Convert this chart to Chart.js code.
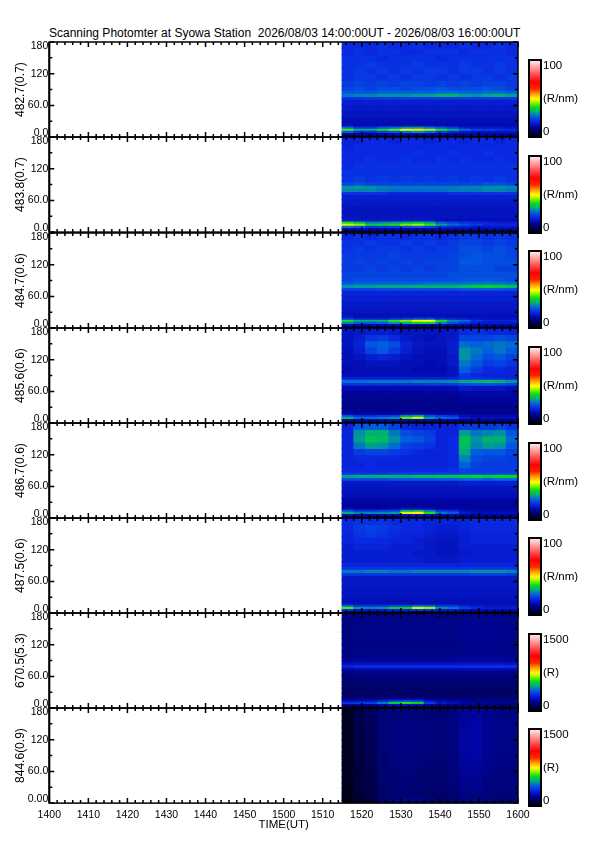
<!DOCTYPE html>
<html><head><meta charset="utf-8">
<script src="https://cdn.jsdelivr.net/npm/chart.js@4.4.1/dist/chart.umd.min.js"></script>
<style>
html,body{margin:0;padding:0;background:#fff;overflow:hidden;width:595px;height:842px;}
#wrap{position:relative;width:595px;height:842px;}
#title{position:absolute;left:49px;top:26px;font:12px "Liberation Sans",Arial,sans-serif;line-height:14px;white-space:pre;color:#000;}
</style></head>
<body><div id="wrap"><div id="title">Scanning Photomter at Syowa Station  2026/08/03 14:00:00UT - 2026/08/03 16:00:00UT</div></div>
<script>
// ---------------- data ----------------
const channelLabels = ['482.7(0.7)','483.8(0.7)','484.7(0.6)','485.6(0.6)','486.7(0.6)','487.5(0.6)','670.5(5.3)','844.6(0.9)'];
const colorbarMax = [100,100,100,100,100,100,1500,1500];
const colorbarUnits = ['(R/nm)','(R/nm)','(R/nm)','(R/nm)','(R/nm)','(R/nm)','(R)','(R)'];
const timeTickLabels = ['1400','1410','1420','1430','1440','1450','1500','1510','1520','1530','1540','1550','1600'];
const yTickValues = [0,60,120,180];
const yTickLabels = ['0.0','60.0','120','180'];
const yTickLabelsLast = ['0.00','60.0','120','180'];
const yMinorTicks = [30,90,150];
// elevation row boundaries (deg)
const elevEdges = [0,5,9,13,17,21,28,38,50,62,72,77,83,89,96,108,120,132,144,156,168,180];
// column centres, minutes after 14:00 UT (3-min bins, 15:15-16:00)
const colTimes = [76.5,79.5,82.5,85.5,88.5,91.5,94.5,97.5,100.5,103.5,106.5,109.5,112.5,115.5,118.5];

// intensity grids: rows from top (168-180 deg) to bottom (0-5 deg), one value per time column
const ch482_7 = [
[21,21,21,22,21,21,22,21,21,21,22,21,21,22,21],
[21,22,21,22,22,21,21,22,22,22,21,22,22,22,21],
[22,22,22,21,22,22,22,22,21,22,22,22,22,22,22],
[22,22,23,22,22,22,23,22,22,22,23,22,22,23,22],
[22,23,22,23,22,23,22,23,23,22,23,23,22,23,22],
[22,23,23,22,23,22,23,23,22,23,22,23,23,22,23],
[23,24,23,24,23,24,24,23,24,23,24,23,24,24,23],
[24,25,24,25,25,24,25,25,26,25,25,25,26,25,24],
[26,26,26,27,27,27,27,27,28,28,27,27,28,28,27],
[29,30,30,31,31,31,32,32,34,34,32,31,33,34,32],
[22,22,23,23,23,23,23,23,23,23,23,23,23,23,23],
[19,19,19,19,19,19,19,19,19,19,19,19,19,19,19],
[18,18,18,18,18,18,18,18,18,18,18,18,18,18,18],
[17,17,17,17,17,17,17,17,17,17,17,17,17,17,17],
[16,16,16,16,16,16,16,16,16,16,16,16,16,16,16],
[16,15,15,15,15,15,15,15,15,15,15,15,15,15,15],
[28,22,22,26,28,31,32,29,26,23,19,18,18,18,17],
[42,34,34,40,43,49,52,46,40,34,28,24,23,22,21],
[26,21,21,24,26,29,31,28,24,21,18,17,17,17,17],
[14,14,14,14,15,15,15,15,14,14,14,14,14,14,14],
[10,11,11,11,11,11,11,11,11,11,11,11,11,11,11]];
const ch483_8 = [
[20,20,21,21,20,21,21,20,21,21,20,21,21,20,21],
[20,21,21,21,21,21,21,21,21,21,21,21,21,21,21],
[21,21,21,21,21,21,22,21,21,22,21,21,22,21,21],
[21,21,22,21,21,22,21,21,22,21,22,21,21,22,21],
[21,22,22,22,22,22,22,22,22,22,22,22,22,22,22],
[22,22,22,22,22,22,22,22,22,22,22,22,22,22,22],
[22,23,22,23,22,23,22,23,22,23,22,23,22,23,22],
[24,25,24,24,24,24,24,24,24,24,24,24,25,25,24],
[31,32,31,30,29,29,29,29,29,29,30,30,31,31,30],
[30,30,30,29,28,28,28,28,28,29,29,29,30,30,29],
[22,22,22,22,21,21,21,21,21,22,22,22,22,22,22],
[19,19,19,19,19,19,19,19,19,19,19,19,19,19,19],
[18,18,18,18,18,18,18,18,18,18,18,18,18,18,18],
[17,17,17,17,17,17,17,17,17,17,17,17,17,17,17],
[17,17,17,17,17,17,17,17,17,17,17,17,17,17,17],
[18,17,17,17,17,17,17,17,16,16,16,16,16,16,16],
[40,36,30,31,32,35,37,33,26,24,22,21,20,19,19],
[48,45,38,39,40,44,46,41,32,28,25,23,21,20,20],
[28,26,22,22,23,25,26,24,21,20,19,18,18,18,18],
[15,15,15,15,15,15,15,15,15,15,15,15,15,15,15],
[11,11,11,11,11,11,11,11,11,11,11,11,11,11,11]];
const ch484_7 = [
[21,22,21,22,22,21,22,22,21,22,23,23,22,23,22],
[22,22,23,22,22,23,22,23,22,23,24,24,23,24,23],
[22,23,22,23,23,22,23,22,23,23,25,25,24,25,24],
[23,23,23,23,24,23,23,23,23,24,25,26,25,25,24],
[23,24,23,24,23,24,23,24,24,24,26,26,25,25,25],
[23,23,24,23,24,23,24,23,24,24,25,25,25,24,24],
[24,24,24,24,24,24,24,24,24,25,25,25,25,25,25],
[24,25,25,25,25,25,25,25,25,25,26,26,26,26,25],
[26,27,27,27,27,27,27,28,28,28,28,29,29,29,28],
[31,32,32,33,33,33,34,34,34,34,35,37,38,37,35],
[24,24,24,25,25,25,25,25,25,25,26,26,27,26,25],
[20,20,20,20,20,20,20,20,20,20,20,20,20,20,20],
[19,19,19,19,19,19,19,19,19,19,19,19,19,19,19],
[18,18,18,18,18,18,18,18,18,18,18,18,18,18,18],
[17,17,17,17,17,17,17,17,17,17,17,17,17,17,17],
[17,16,16,16,16,16,16,16,16,16,16,16,16,16,16],
[22,19,19,19,21,22,24,24,20,19,18,17,17,17,17],
[40,34,34,35,41,44,51,50,40,31,28,22,20,20,20],
[30,26,26,27,31,34,39,38,30,25,22,19,18,18,18],
[15,15,15,15,15,15,15,15,15,15,15,15,15,15,15],
[11,11,11,11,11,11,11,11,11,11,11,11,11,11,11]];
const ch485_6 = [
[17,18,19,19,18,17,17,17,17,18,21,22,21,21,20],
[17,19,22,23,21,18,17,16,17,18,24,24,24,25,24],
[17,20,26,27,25,20,18,17,17,19,28,27,28,29,28],
[16,19,24,26,23,19,17,16,16,19,31,29,27,29,26],
[16,17,19,20,19,17,16,16,16,18,31,28,25,26,24],
[16,16,17,17,17,16,16,15,16,18,29,26,23,24,22],
[15,16,16,16,16,16,15,15,15,17,27,23,21,21,20],
[16,16,16,16,16,16,16,16,16,17,23,21,20,20,20],
[19,19,19,19,19,19,19,19,19,20,22,22,21,21,20],
[28,28,29,29,29,29,30,30,30,31,33,34,35,34,31],
[22,22,22,22,22,22,22,23,23,23,25,26,26,25,24],
[15,15,15,15,15,15,15,15,15,15,18,17,17,17,16],
[13,13,13,13,13,13,13,13,13,13,14,14,14,14,14],
[12,12,12,12,12,12,12,12,12,12,13,13,13,13,13],
[12,12,12,12,12,12,12,12,12,12,12,12,12,12,12],
[12,12,12,12,12,12,12,12,12,12,12,12,12,12,12],
[14,13,13,13,13,14,14,13,13,13,12,12,12,12,12],
[25,21,21,22,23,30,32,25,22,21,16,15,15,15,15],
[34,28,28,29,31,43,47,32,28,26,18,16,16,16,16],
[15,14,14,14,14,16,16,14,14,14,13,13,13,13,13],
[10,10,10,10,10,10,10,10,10,10,10,10,10,10,10]];
const ch486_7 = [
[20,26,27,27,24,21,20,20,20,20,23,23,23,24,22],
[20,31,34,34,29,25,24,23,20,20,32,29,30,31,26],
[20,32,36,35,31,27,26,24,20,21,36,31,34,34,28],
[20,29,32,31,28,24,23,22,20,21,35,30,32,31,26],
[20,23,24,24,23,22,21,20,20,21,33,27,26,26,24],
[20,21,21,21,21,20,20,20,20,21,30,25,24,24,23],
[20,20,21,20,20,20,20,20,20,21,27,24,23,23,23],
[21,21,21,21,21,21,21,21,21,22,24,23,23,23,23],
[22,22,22,22,23,23,23,23,23,23,24,24,24,24,24],
[32,33,33,34,34,34,35,35,36,36,37,38,37,38,38],
[25,25,25,25,26,26,26,26,27,27,28,28,27,28,28],
[18,18,18,18,18,18,18,18,18,18,19,19,19,19,19],
[17,17,17,17,17,17,17,17,17,17,17,17,17,17,17],
[16,16,16,16,16,16,16,16,16,16,16,16,16,16,16],
[14,14,14,14,14,14,14,14,14,14,14,14,14,14,14],
[13,13,13,13,13,13,13,13,13,13,13,13,13,13,13],
[15,14,14,14,15,16,16,15,14,14,13,13,13,13,13],
[25,22,22,23,24,33,35,29,22,21,16,15,15,15,15],
[34,30,30,31,32,48,51,40,29,26,18,16,16,16,16],
[16,15,15,15,15,17,18,16,15,15,14,14,14,14,14],
[10,10,10,10,10,10,10,10,10,10,10,10,10,10,10]];
const ch487_5 = [
[21,22,22,22,21,21,21,20,20,20,20,21,21,21,21],
[21,23,24,23,22,21,21,20,19,19,20,21,21,21,21],
[20,22,23,22,21,20,20,19,18,18,19,20,20,20,20],
[20,21,21,21,20,20,19,18,17,17,19,20,20,20,20],
[19,20,20,20,19,19,19,18,17,17,19,19,19,19,19],
[19,19,19,19,19,19,18,18,17,17,18,19,19,19,19],
[19,19,19,19,19,19,19,18,18,18,19,19,19,19,19],
[20,20,20,20,20,20,20,20,20,20,20,20,20,20,20],
[22,22,22,22,22,22,22,22,22,22,22,22,22,22,22],
[29,29,30,30,29,29,30,30,30,30,30,31,31,31,30],
[23,23,23,23,23,23,23,23,23,23,23,24,24,24,23],
[18,18,18,18,18,18,18,18,18,18,18,18,18,18,18],
[18,18,18,18,18,18,18,18,18,18,18,18,18,18,18],
[17,17,17,17,17,17,17,17,17,17,17,17,17,17,17],
[17,17,17,17,17,17,17,17,17,17,17,17,17,17,17],
[16,16,16,16,16,16,16,16,16,16,16,16,16,16,16],
[17,16,16,16,16,16,16,16,16,16,16,16,16,16,16],
[27,22,22,22,24,24,27,26,22,22,19,18,17,17,17],
[42,31,30,31,37,39,47,45,31,29,24,21,19,19,19],
[22,18,18,18,20,20,23,22,18,18,16,15,15,15,15],
[11,11,11,11,11,11,11,11,11,11,11,11,11,11,11]];
const ch670_5 = [
[160,170,170,170,170,170,170,170,170,170,175,180,180,175,170],
[160,170,175,175,175,175,175,175,175,175,180,185,185,180,175],
[165,175,175,175,175,175,175,175,175,175,185,190,190,185,180],
[165,175,175,175,175,175,175,175,175,175,185,190,190,185,180],
[165,170,170,170,170,170,170,170,170,170,180,185,185,180,175],
[165,170,170,170,170,170,170,170,170,170,175,180,180,175,170],
[170,175,175,175,175,175,175,175,175,175,180,180,180,180,175],
[190,195,195,195,195,195,195,195,195,195,200,200,200,200,195],
[230,240,240,240,240,240,245,245,245,245,250,250,250,250,245],
[290,310,310,310,310,310,315,315,315,315,320,320,320,325,320],
[220,230,230,230,230,230,230,230,230,230,235,235,235,235,230],
[165,170,170,170,170,170,170,170,170,170,170,170,170,170,170],
[145,150,150,150,150,150,150,150,150,150,150,150,150,150,150],
[135,140,140,140,140,140,140,140,140,140,140,140,140,140,140],
[125,130,130,130,130,130,130,130,130,130,130,130,130,130,130],
[135,135,135,135,135,135,135,135,135,135,135,135,135,135,135],
[165,165,170,175,185,185,185,165,155,150,145,145,145,145,145],
[220,230,240,280,330,350,330,250,210,195,185,175,170,170,170],
[320,340,350,430,560,600,580,340,270,240,210,195,185,185,180],
[195,205,205,225,250,260,250,205,185,175,165,160,155,155,155],
[115,125,125,125,125,125,125,125,125,125,125,125,125,125,125]];
const ch844_6 = [
[40,100,120,150,155,160,155,150,150,160,190,200,175,170,170],
[40,100,120,150,155,160,155,150,150,160,195,205,180,170,170],
[40,95,115,150,160,165,160,155,155,165,200,210,180,175,175],
[40,95,115,150,160,165,160,155,155,165,205,210,185,175,175],
[40,90,110,150,160,165,160,155,155,165,205,215,185,175,175],
[40,90,110,150,160,165,160,155,155,165,205,215,185,175,170],
[40,90,110,150,160,160,160,155,155,165,205,210,185,175,170],
[40,85,105,145,155,160,155,150,150,160,200,210,180,170,170],
[40,85,105,145,155,160,155,150,150,160,200,205,180,170,165],
[40,85,105,145,155,160,155,150,150,160,200,205,180,170,165],
[40,85,105,145,155,160,155,150,150,160,195,200,180,170,165],
[40,80,100,145,150,155,150,145,145,155,190,195,175,165,160],
[40,80,100,140,150,155,150,145,145,155,185,190,170,165,160],
[40,75,95,140,145,150,145,140,140,150,180,185,165,160,155],
[35,75,95,135,145,150,145,140,140,150,175,180,165,160,155],
[35,70,90,130,140,145,140,135,135,145,170,175,160,155,150],
[35,70,90,130,140,145,140,135,135,140,165,170,155,150,150],
[35,70,90,130,140,145,140,135,135,140,160,165,155,150,145],
[35,70,90,135,150,160,160,140,135,140,160,160,150,145,145],
[30,65,85,140,160,175,175,145,135,140,155,155,150,145,140],
[30,60,80,120,130,135,135,125,120,125,140,140,135,130,130]];
const channelGrids = [ch482_7, ch483_8, ch484_7, ch485_6, ch486_7, ch487_5, ch670_5, ch844_6];

// ---------------- style ----------------
const cmapStops = [
 [0.00,0,0,0],[0.06,0,0,70],[0.14,0,5,165],[0.21,10,40,225],[0.27,0,95,225],[0.33,0,170,130],
 [0.39,0,220,30],[0.44,120,240,0],[0.50,255,255,0],[0.56,255,170,0],[0.63,255,40,0],
 [0.72,255,0,0],[0.82,255,80,80],[0.91,255,160,160],[1.00,255,235,235]];
function cmap(f) {
  f = Math.max(0, Math.min(1, f));
  for (let k = 1; k < cmapStops.length; k++) {
    const s1 = cmapStops[k];
    if (f <= s1[0]) {
      const s0 = cmapStops[k - 1];
      const t = (f - s0[0]) / (s1[0] - s0[0]);
      const c = [1, 2, 3].map(j => Math.round(s0[j] + t * (s1[j] - s0[j])));
      return `rgb(${c[0]},${c[1]},${c[2]})`;
    }
  }
  return 'rgb(255,235,235)';
}

const PANEL_TOP = 42.3, PANEL_H = 95.1, PLOT_L = 49.3, PLOT_R = 518, PAD = 12;
const X_MIN = 0, X_MAX = 120, X_MINOR = 2, X_MAJOR = 10;
Chart.defaults.font.family = '"Liberation Sans", Arial, sans-serif';
Chart.defaults.color = '#000';

const frameTicks = {
  id: 'frameTicks',
  afterDatasetsDraw(chart, args, opts) {
    const {ctx, chartArea: a, scales: {x, y}} = chart;
    ctx.save();
    ctx.strokeStyle = '#000';
    ctx.lineWidth = 1.5;
    ctx.beginPath();
    for (let v = X_MIN; v <= X_MAX; v += X_MINOR) {
      const px = x.getPixelForValue(v);
      const len = v % X_MAJOR === 0 ? 5 : 3;
      ctx.moveTo(px, a.top); ctx.lineTo(px, a.top + len);
      ctx.moveTo(px, a.bottom); ctx.lineTo(px, a.bottom - len);
    }
    const yt = yTickValues.map(v => [v, 5]).concat(yMinorTicks.map(v => [v, 3]));
    yt.forEach(([v, len]) => {
      const py = y.getPixelForValue(v);
      ctx.moveTo(a.left, py); ctx.lineTo(a.left + len, py);
      ctx.moveTo(a.right, py); ctx.lineTo(a.right - len, py);
    });
    ctx.stroke();
    ctx.lineWidth = 1.5;
    ctx.strokeRect(a.left, a.top, a.right - a.left, a.bottom - a.top);
    ctx.lineWidth = 2;
    ctx.beginPath(); ctx.moveTo(a.left, a.top); ctx.lineTo(a.left, a.bottom); ctx.stroke();
    ctx.fillStyle = '#000';
    ctx.font = '10.5px "Liberation Sans", Arial, sans-serif';
    ctx.textAlign = 'right';
    ctx.textBaseline = 'middle';
    opts.labels.forEach((t, i) => {
      const v = yTickValues[i];
      let py = y.getPixelForValue(v);
      if (v === y.max) py += 4; else if (v === y.min) py -= 4;
      ctx.fillText(t, a.left - 1, py);
    });
    ctx.restore();
  }
};

const cbFrame = {
  id: 'cbFrame',
  afterDatasetsDraw(chart, args, opts) {
    const {ctx, chartArea: a} = chart;
    ctx.save();
    ctx.strokeStyle = '#000';
    ctx.lineWidth = 2;
    ctx.strokeRect(a.left, a.top, a.right - a.left, a.bottom - a.top);
    ctx.fillStyle = '#000';
    ctx.font = '11.5px "Liberation Sans", Arial, sans-serif';
    ctx.textAlign = 'left';
    const ys = chart.scales.y;
    ctx.textBaseline = 'top';
    ctx.fillText(String(opts.max), a.right + 2, ys.getPixelForValue(opts.max) + 0.5);
    ctx.textBaseline = 'middle';
    ctx.fillText(opts.unit, a.right + 2, ys.getPixelForValue(opts.max / 2));
    ctx.textBaseline = 'bottom';
    ctx.fillText('0', a.right + 2, ys.getPixelForValue(0) + 0.5);
    ctx.restore();
  }
};

function panelDatasets(grid, vmax) {
  const n = elevEdges.length - 1;
  return grid.map((row, i) => ({
    data: colTimes.map(t => ({x: t, y: [elevEdges[n - 1 - i], elevEdges[n - i]]})),
    backgroundColor: row.map(v => cmap(v / vmax)),
    borderWidth: 0, grouped: false, barPercentage: 1, categoryPercentage: 1, inflateAmount: 0.6
  }));
}

const wrap = document.getElementById('wrap');
function addCanvas(left, top, w, h) {
  const cv = document.createElement('canvas');
  cv.width = w; cv.height = h;
  cv.style.cssText = `position:absolute;left:${left}px;top:${top}px;width:${w}px;height:${h}px;`;
  wrap.appendChild(cv);
  return cv;
}

channelGrids.forEach((grid, i) => {
  const last = i === channelGrids.length - 1;
  const top = PANEL_TOP + i * PANEL_H - PAD;
  const H = Math.ceil(PAD + PANEL_H + (last ? 38 : PAD));
  const W = PLOT_R + 26;
  const xH = H - PAD - PANEL_H;
  const cv = addCanvas(0, top, W, H);
  new Chart(cv, {
    type: 'bar',
    data: {datasets: panelDatasets(grid, colorbarMax[i])},
    options: {
      responsive: false, devicePixelRatio: 1, animation: false, events: [],
      layout: {padding: {left: 0, right: W - PLOT_R, top: PAD, bottom: 0}},
      plugins: {legend: {display: false}, tooltip: {enabled: false},
        frameTicks: {labels: last ? yTickLabelsLast : yTickLabels}},
      scales: {
        x: {type: 'linear', min: X_MIN, max: X_MAX, offset: false, display: last,
          grid: {display: false, drawTicks: false}, border: {display: false},
          ticks: {stepSize: 10, autoSkip: false, maxRotation: 0, minRotation: 0, padding: 6,
            font: {size: 10.5}, callback: (v, idx) => timeTickLabels[idx]},
          title: {display: true, text: 'TIME(UT)', font: {size: 11.5}, padding: {top: 0, bottom: 10.6}},
          afterFit: s => { s.height = xH; }},
        y: {type: 'linear', min: 0, max: 180,
          grid: {display: false, drawTicks: false}, border: {display: false},
          ticks: {display: false},
          title: {display: true, text: channelLabels[i], font: {size: 12}, padding: {top: 13.3, bottom: 0}},
          afterFit: s => { s.width = PLOT_L; }}
      }
    },
    plugins: [frameTicks]
  });
});

// colour bars
const CB_L = 522, CB_W = 73, CB_X0 = 529, CB_X1 = 541, CB_H = 77, CB_SEG = 100;
channelGrids.forEach((grid, i) => {
  const vmax = colorbarMax[i];
  const cbTop = PANEL_TOP + i * PANEL_H + 18 + i * 0.45;
  const cv = addCanvas(CB_L, cbTop - 4, CB_W, CB_H + 8);
  const segs = [], cols = [];
  for (let k = 0; k < CB_SEG; k++) {
    segs.push({x: 'c', y: [k * vmax / CB_SEG, (k + 1) * vmax / CB_SEG]});
    cols.push(cmap((k + 0.5) / CB_SEG));
  }
  new Chart(cv, {
    type: 'bar',
    data: {labels: ['c'], datasets: [{data: segs, backgroundColor: cols, borderWidth: 0, grouped: false,
      barPercentage: 1, categoryPercentage: 1, inflateAmount: 0.5}]},
    options: {
      responsive: false, devicePixelRatio: 1, animation: false, events: [],
      layout: {padding: {left: CB_X0 - CB_L, right: CB_W - (CB_X1 - CB_L), top: 4, bottom: 4}},
      plugins: {legend: {display: false}, tooltip: {enabled: false}, cbFrame: {max: vmax, unit: colorbarUnits[i]}},
      scales: {x: {display: false}, y: {display: false, min: 0, max: vmax}}
    },
    plugins: [cbFrame]
  });
});
</script>
</body></html>
